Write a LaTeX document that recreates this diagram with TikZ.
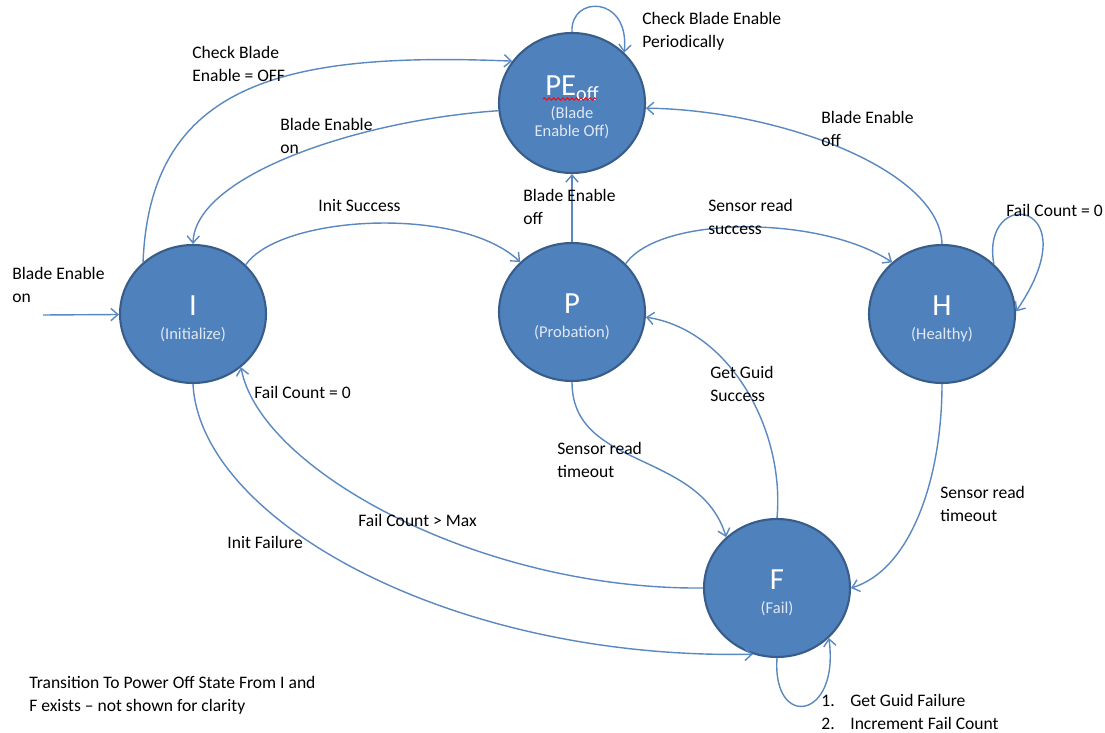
\documentclass[tikz,border=0pt]{standalone}
\usepackage{fontspec}
\setmainfont{Carlito}
\usetikzlibrary{shapes.geometric,arrows.meta,decorations.pathmorphing}
\definecolor{stfill}{HTML}{4F81BD}
\definecolor{stline}{HTML}{385D8A}
\definecolor{edgec}{HTML}{5A88C0}
\definecolor{subtxt}{HTML}{E0E8F3}
\newcommand\bigtxt{\fontsize{17.5}{20}\selectfont}
\newcommand\subtxt{\fontsize{9.4}{11}\selectfont\color{subtxt}}
\newcommand\myctrline[1]{\hbox to 0pt{\hss #1\hss}}
% state text: big letter over sub text, last baseline 14.3pt below centre
\newcommand\stc[2]{\raisebox{-14.3pt}[0pt][0pt]{\vbox{\baselineskip=13.6pt\lineskiplimit=-10pt
  \myctrline{\bigtxt #1}\myctrline{\subtxt #2}}}}
\newcommand\pec{\raisebox{-19.3pt}[0pt][0pt]{\vbox{\baselineskip=10.2pt\lineskiplimit=-10pt
  \myctrline{\bigtxt PE\raisebox{-3pt}{\fontsize{11.5}{12}\selectfont off}}\vskip 3.4pt
  \myctrline{\subtxt (Blade}\myctrline{\subtxt Enable Off)}}}}
\begin{document}
\begin{tikzpicture}[x=0.02cm,y=-0.02cm,
  state/.style={ellipse, draw=stline, line width=1.2pt, fill=stfill,
    minimum width=2.92cm, minimum height=2.76cm, inner sep=0pt, text=white},
  conn/.style={draw=edgec, line width=0.8pt, -{Straight Barb[length=4pt,width=7pt]}},
  lbl/.style={anchor=west, align=left, inner sep=0pt,
    font=\fontsize{10}{13.1}\selectfont, text=black}]
\useasboundingbox (0,0) rectangle (1105,733);

% states
\node[state, minimum height=2.8cm] (PE) at (572,103) {\pec};
\node[state] (I) at (193,314) {\stc{I}{(Initialize)}};
\node[state] (P) at (572,312) {\stc{P}{(Probation)}};
\node[state] (H) at (942,314) {\stc{H}{(Healthy)}};
\node[state] (F) at (777,588) {\stc{F}{(Fail)}};

% red spell-check squiggle
\draw[red, line width=0.5pt, decorate, decoration={snake, amplitude=0.7pt, segment length=2.6pt}]
  (543,99) -- (597,99);

% connectors
\coordinate (start) at (43,315);
\draw[conn] (start) -- (I);
\draw[conn] (I.134) .. controls (150,80) and (290,52) .. (PE.145);
\draw[conn] (PE.186) .. controls (360,120) and (195,175) .. (I.90);
\draw[conn] (I.43) .. controls (280,215) and (460,205) .. (P.136);
\draw[conn] (P.north) -- (PE.south);
\draw[conn] (P.42) .. controls (660,215) and (820,215) .. (H.134);
\draw[conn] (H.90) .. controls (940,170) and (780,110) .. (PE.356);
\draw[conn] (H.44) .. controls (980,185) and (1092,200) .. (H.2);
\draw[conn] (PE.90) .. controls (570,-5) and (630,-5) .. (PE.44);
\draw[conn] (F.90) .. controls (785,430) and (730,330) .. (P.356);
\draw[conn] (P.270) .. controls (572,470) and (700,450) .. (F.135);
\draw[conn] (H.270) .. controls (942,480) and (910,570) .. (F.0);
\draw[conn] (F.180) .. controls (480,590) and (260,470) .. (I.312);
\draw[conn] (I.270) .. controls (200,520) and (450,660) .. (F.250);
\draw[conn] (F.270) .. controls (772,730) and (840,720) .. (F.316);

% labels
\node[lbl] (l1) at (12,285) {Blade Enable\\on};
\node[lbl] (l2) at (192,63.5) {Check Blade\\Enable = OFF};
\node[lbl] (l3) at (280,136) {Blade Enable\\on};
\node[lbl] (l4) at (318,206) {Init Success};
\node[lbl] (l5) at (523,206.5) {Blade Enable\\off};
\node[lbl] (l6) at (708,217) {Sensor read\\success};
\node[lbl] (l7) at (821,129) {Blade Enable\\off};
\node[lbl] (l8) at (1006,210) {Fail Count = 0};
\node[lbl] (l9) at (642,31.5) {Check Blade Enable\\Periodically};
\node[lbl] (l10) at (710,383.5) {Get Guid\\Success};
\node[lbl] (l11) at (557,460) {Sensor read\\timeout};
\node[lbl] (l12) at (940,504) {Sensor read\\timeout};
\node[lbl] (l13) at (254,392) {Fail Count = 0};
\node[lbl] (l14) at (358,520) {Fail Count > Max};
\node[lbl] (l15) at (227,542) {Init Failure};
\node[lbl] (l16) at (821,711.5) {\makebox[16.5pt][l]{1.}Get Guid Failure\\\makebox[16.5pt][l]{2.}Increment Fail Count};
\node[lbl] (l17) at (29,695) {Transition To Power Off State From I and\\F exists -- not shown for clarity};
\end{tikzpicture}
\end{document}
